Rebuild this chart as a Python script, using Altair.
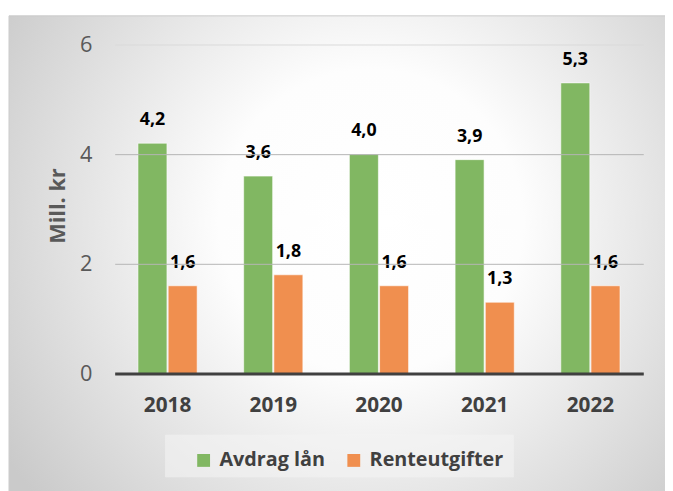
import altair as alt
import pandas as pd

years = ["2018", "2019", "2020", "2021", "2022"]
series = ["Avdrag lån", "Renteutgifter"]
avdrag = [4.2, 3.6, 4.0, 3.9, 5.3]
rente = [1.6, 1.8, 1.6, 1.3, 1.6]
colors = ["#81b762", "#f08f4f"]
y_ticks = [0, 2, 4, 6]

rows = []
for i, yr in enumerate(years):
    for s, vals in zip(series, [avdrag, rente]):
        v = vals[i]
        rows.append({"year": yr, "series": s, "value": v,
                     "label": f"{v:.1f}".replace(".", ",")})
df = pd.DataFrame(rows)

FONT = "Open Sans"
W, H = 535, 333

grad = alt.RadialGradient(
    gradient="radial",
    stops=[alt.GradientStop(color="#ffffff", offset=0),
           alt.GradientStop(color="#fdfdfd", offset=0.35),
           alt.GradientStop(color="#cacaca", offset=1)],
    x1=0.55, y1=0.45, r1=0, x2=0.55, y2=0.45, r2=0.66,
)

one = alt.Data(values=[{"a": 1}])

bg = alt.Chart(one).mark_rect(fill=grad, stroke="#cccccc", strokeWidth=1).encode(
    x=alt.value(-107), x2=alt.value(W + 24), y=alt.value(-29), y2=alt.value(H + 120)
)

legbg = alt.Chart(one).mark_rect(fill="#f4f4f4", opacity=0.6).encode(
    x=alt.value(51), x2=alt.value(404), y=alt.value(395), y2=alt.value(438)
)

base = alt.Chart(df).encode(
    x=alt.X("year:N", sort=years,
            scale=alt.Scale(paddingInner=0.44, paddingOuter=0.22),
            axis=alt.Axis(title=None, labelAngle=0, labelFont=FONT, labelFontSize=21,
                          labelFontWeight="bold", labelColor="#404040", labelPadding=21,
                          ticks=False, tickSize=0, domainColor="#404040", domainWidth=3,
                          grid=False, zindex=1)),
    xOffset=alt.XOffset("series:N", sort=series, scale=alt.Scale(paddingInner=0.04)),
    y=alt.Y("value:Q", scale=alt.Scale(domain=[0, 6]),
            axis=alt.Axis(values=y_ticks, title="Mill. kr", labelFont=FONT, labelFontSize=22,
                          labelColor="#595959", labelPadding=23, ticks=False, tickSize=0,
                          domain=False,
                          gridColor={"condition": {"test": "datum.value === 6", "value": "#dadada"},
                                     "value": "#b5b5b5"},
                          gridWidth=1,
                          titleFont=FONT, titleFontSize=22, titleFontWeight="bold",
                          titleColor="#595959", titleX=-58, titleY=163, titleAngle=270,
                          titleAlign="center", titleBaseline="middle", zindex=1)),
)

bars = base.mark_bar(stroke="#ffffff", strokeOpacity=0.6, strokeWidth=1).encode(
    color=alt.Color("series:N", sort=series,
                    scale=alt.Scale(domain=series, range=colors),
                    legend=alt.Legend(title=None, orient="none", legendX=80, legendY=411,
                                      direction="horizontal", symbolType="square",
                                      symbolSize=169, symbolStrokeWidth=0,
                                      labelFont=FONT, labelFontSize=20, labelFontWeight="bold",
                                      labelColor="#404040", labelOffset=6, columnPadding=19,
                                      padding=0))
)

text = base.mark_text(font=FONT, fontSize=18, fontWeight="bold", color="#000000",
                      baseline="alphabetic", dy=-18).encode(text="label:N")

chart = alt.layer(bg, legbg, bars, text).properties(
    width=W, height=H,
    padding={"left": 108, "top": 34, "right": 22, "bottom": 116},
    autosize=alt.AutoSizeParams(type="none"),
).configure_view(stroke=None)

chart.save("out.html", embed_options={"renderer": "svg", "actions": False})
